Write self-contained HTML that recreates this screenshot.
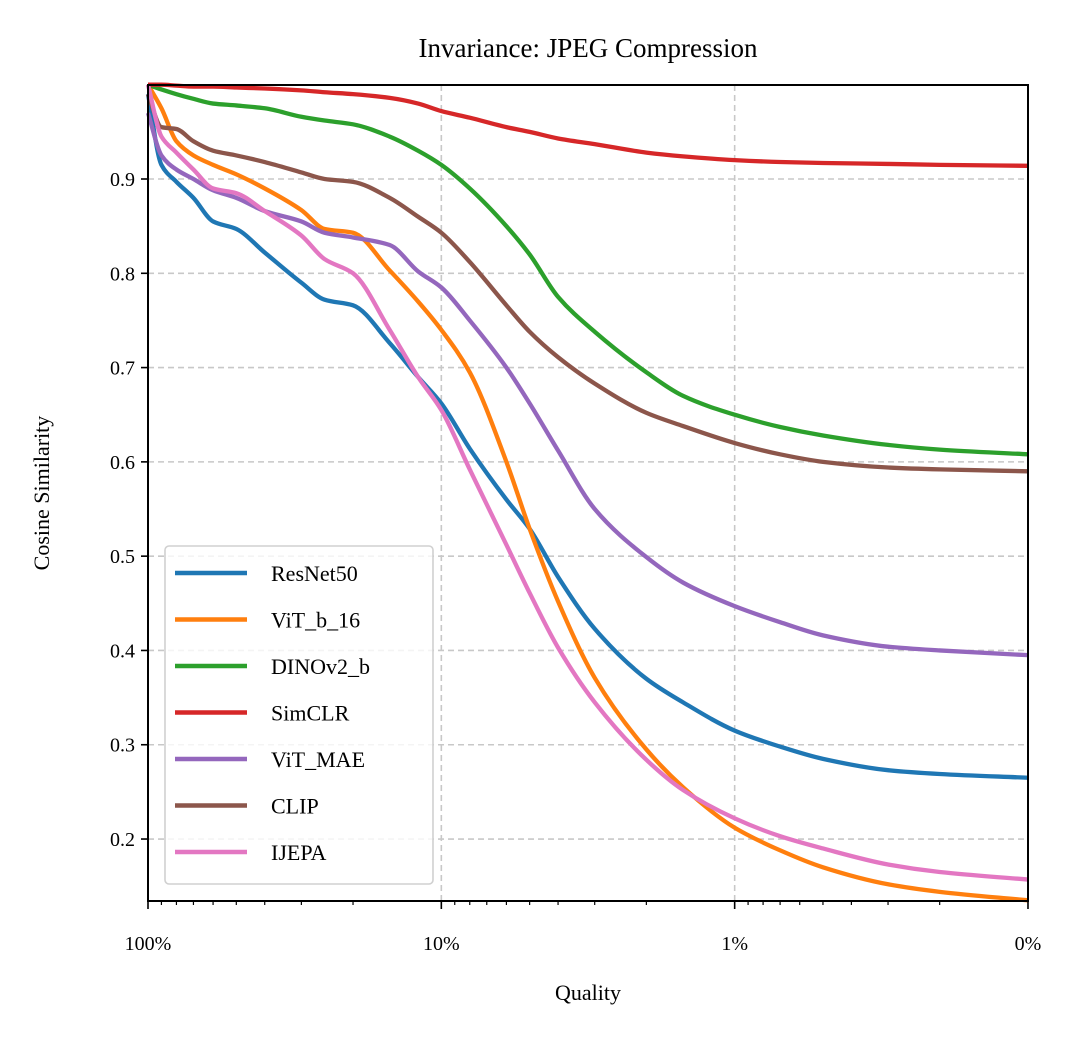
<!DOCTYPE html>
<html><head><meta charset="utf-8"><style>
body{margin:0;background:#fff;}
svg text{font-family:"Liberation Serif",serif;fill:#000;}
</style></head><body>
<svg id="chart" width="1080" height="1038" xmlns="http://www.w3.org/2000/svg">
<text x="588" y="57" font-size="27" text-anchor="middle">Invariance: JPEG Compression</text>
<g id="grid"></g>
<g id="lines"></g>
<rect x="148" y="85" width="880" height="816" fill="none" stroke="#000" stroke-width="2"/>
<g id="ticks"></g>
<text x="588" y="1000" font-size="22" text-anchor="middle">Quality</text>
<text x="0" y="0" font-size="22" text-anchor="middle" transform="translate(49,493) rotate(-90)">Cosine Similarity</text>
<g id="legend"></g>
</svg>
<script>
const quality=[100,90,80,70,60,50,40,30,25,20,15,12,10,8,6,5,4,3,2,1.5,1,0.7,0.5,0.3,0.2,0.1];
const seriesNames=["ResNet50","ViT_b_16","DINOv2_b","SimCLR","ViT_MAE","CLIP","IJEPA"];
const colors=["#1f77b4","#ff7f0e","#2ca02c","#d62728","#9467bd","#8c564b","#e377c2"];
const resnet=[0.99,0.915,0.897,0.88,0.855,0.847,0.822,0.79,0.772,0.766,0.726,0.69,0.662,0.614,0.56,0.529,0.478,0.423,0.37,0.345,0.315,0.298,0.285,0.273,0.269,0.265];
const vit=[1.0,0.975,0.94,0.925,0.915,0.905,0.89,0.867,0.847,0.843,0.803,0.77,0.74,0.695,0.60,0.529,0.452,0.371,0.295,0.255,0.212,0.188,0.17,0.152,0.144,0.135];
const dino=[1.0,0.995,0.99,0.985,0.98,0.978,0.975,0.966,0.962,0.958,0.945,0.93,0.915,0.89,0.85,0.82,0.775,0.738,0.695,0.67,0.65,0.637,0.628,0.618,0.613,0.608];
const simclr=[1.0,1.0,0.999,0.998,0.998,0.997,0.996,0.994,0.992,0.99,0.986,0.98,0.972,0.965,0.955,0.95,0.943,0.937,0.928,0.924,0.92,0.918,0.917,0.916,0.915,0.914];
const mae=[0.97,0.925,0.91,0.9,0.888,0.88,0.866,0.855,0.843,0.838,0.83,0.802,0.785,0.75,0.70,0.662,0.612,0.55,0.499,0.472,0.447,0.43,0.416,0.404,0.4,0.395];
const clip=[0.99,0.955,0.953,0.94,0.93,0.925,0.918,0.907,0.9,0.897,0.88,0.86,0.843,0.812,0.766,0.738,0.711,0.683,0.652,0.638,0.62,0.608,0.6,0.594,0.592,0.59];
const ijepa=[1.0,0.945,0.928,0.91,0.89,0.885,0.866,0.84,0.815,0.80,0.74,0.69,0.655,0.592,0.512,0.461,0.403,0.345,0.284,0.252,0.222,0.203,0.19,0.173,0.165,0.157];
const allSeries=[resnet,vit,dino,simclr,mae,clip,ijepa];
const yTicks=[0.2,0.3,0.4,0.5,0.6,0.7,0.8,0.9];
const xTickLabels=["100%","10%","1%","0%"];
const xTickVals=[100,10,1,0.1];
const NS="http://www.w3.org/2000/svg";
const X=q=>148+(2-Math.log10(q))*293.33;
const Y=v=>179+(0.9-v)*942.9;
function mk(tag,attrs,parent){const e=document.createElementNS(NS,tag);for(const k in attrs)e.setAttribute(k,attrs[k]);parent.appendChild(e);return e;}
const grid=document.getElementById('grid'),ticks=document.getElementById('ticks'),lines=document.getElementById('lines'),legend=document.getElementById('legend');
yTicks.forEach(v=>{
 const g=mk('line',{x1:148,x2:1028,y1:Y(v),y2:Y(v),stroke:'#c8c8c8','stroke-width':1.6,'stroke-dasharray':'6,4'},grid);
 
 
 const t=mk('line',{x1:141,x2:148,y1:Y(v),y2:Y(v),stroke:'#000','stroke-width':1.6},ticks);
 
 
 const l=mk('text',{x:135,y:Y(v)+7,'font-size':20,'text-anchor':'end'},ticks);
 l.textContent=v.toFixed(1);
 
 
});
xTickVals.forEach((q,i)=>{
 if(i>0&&i<3){const g=mk('line',{x1:X(q),x2:X(q),y1:85,y2:901,stroke:'#c8c8c8','stroke-width':1.6,'stroke-dasharray':'6,4'},grid);
 
 }
 const t=mk('line',{x1:X(q),x2:X(q),y1:901,y2:909,stroke:'#000','stroke-width':1.6},ticks);
 
 
 const l=mk('text',{x:X(q),y:950,'font-size':20,'text-anchor':'middle'},ticks);
 l.textContent=xTickLabels[i];
 
 
 if(i<3){for(let m=2;m<=9;m++){const mq=q*m/10;
  const mt=mk('line',{x1:X(mq),x2:X(mq),y1:901,y2:905,stroke:'#000','stroke-width':1.2},ticks);
  
  }}
});
function monotonePath(pts){
 const n=pts.length,dx=[],s=[],m=[];
 for(let i=0;i<n-1;i++){dx[i]=pts[i+1][0]-pts[i][0];s[i]=(pts[i+1][1]-pts[i][1])/dx[i];}
 m[0]=s[0];m[n-1]=s[n-2];
 for(let i=1;i<n-1;i++){
  if(s[i-1]*s[i]<=0)m[i]=0;
  else{const w1=2*dx[i]+dx[i-1],w2=dx[i]+2*dx[i-1];m[i]=(w1+w2)/(w1/s[i-1]+w2/s[i]);}
 }
 let d='M'+pts[0][0]+','+pts[0][1];
 for(let i=0;i<n-1;i++){
  const h=dx[i]/3;
  d+=' C'+(pts[i][0]+h)+','+(pts[i][1]+m[i]*h)+' '+(pts[i+1][0]-h)+','+(pts[i+1][1]-m[i+1]*h)+' '+pts[i+1][0]+','+pts[i+1][1];
 }
 return d;
}
allSeries.forEach((s,i)=>{
 const pts=s.map((v,j)=>[X(quality[j]),Y(v)]);
 const p=mk('path',{d:monotonePath(pts),fill:'none',stroke:colors[i],'stroke-width':4.3,'stroke-linejoin':'round','stroke-linecap':'butt'},lines);
 
 
});
const box=mk('rect',{x:165,y:546,width:268,height:338,rx:4,fill:'#fff','fill-opacity':0.8,stroke:'#d0d0d0','stroke-width':1.6},legend);


seriesNames.forEach((n,i)=>{
 const y=573+i*46.5;
 const ln=mk('line',{x1:175,x2:247,y1:y,y2:y,stroke:colors[i],'stroke-width':4.5},legend);
 
 
 const t=mk('text',{x:271,y:y+8,'font-size':22},legend);
 t.textContent=n;
 
 
});
</script>
</body></html>
